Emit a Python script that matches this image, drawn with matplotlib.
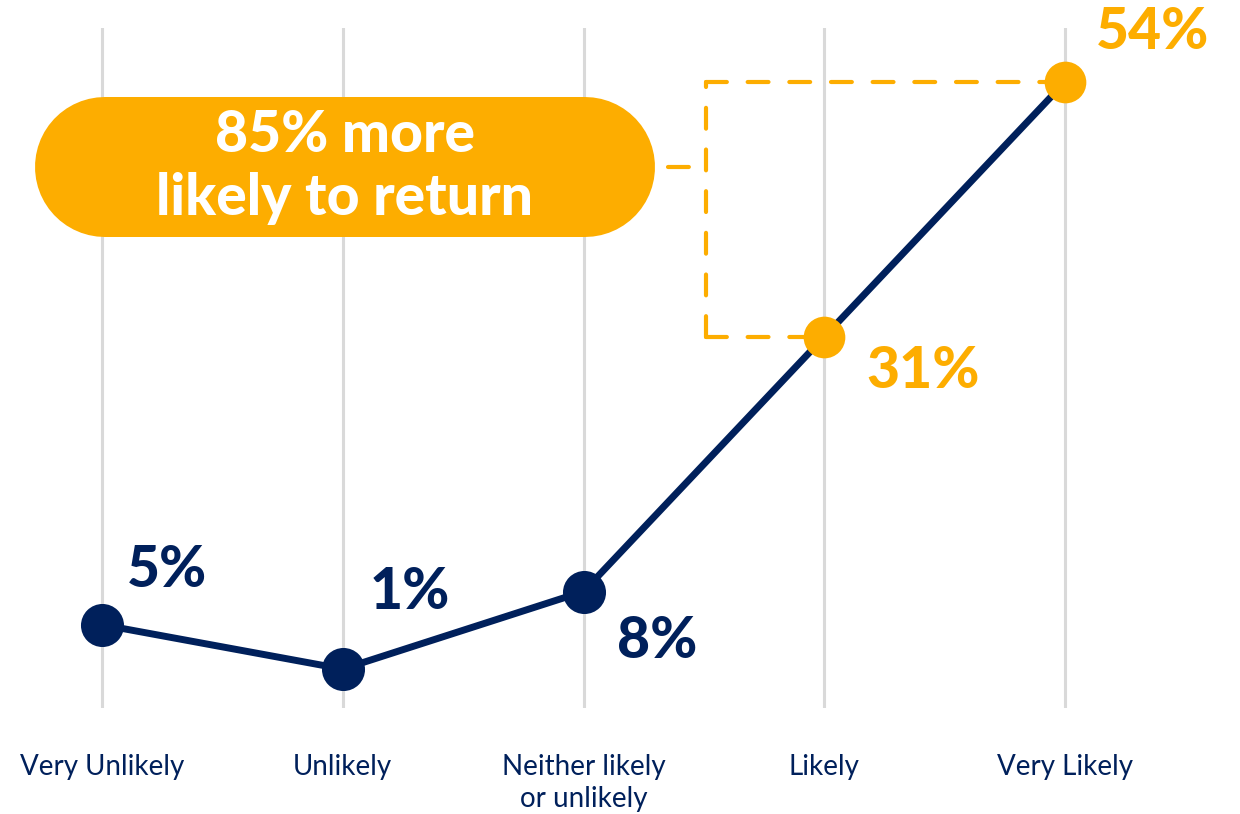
import matplotlib.pyplot as plt
from matplotlib.lines import Line2D

# survey answers and share of respondents
categories = ["Very Unlikely", "Unlikely", "Neither likely\nor unlikely", "Likely", "Very Likely"]
shares = [5, 1, 8, 31, 54]
labels = ["5%", "1%", "8%", "31%", "54%"]
callout = "85% more\nlikely to return"

navy = "#00205B"
gold = "#FDAD00"
grey = "#D9D9D9"

plt.rcParams['font.family'] = ['Lato', 'DejaVu Sans']

fig = plt.figure(figsize=(12.4, 8.14), dpi=100)
ax = fig.add_axes([0, 0.1302, 1, 0.8354])

x = list(range(len(categories)))
ax.set_xlim(-0.424, 4.727)
ax.set_ylim(-2.52, 58.88)

for xi in x:
    ax.axvline(xi, color=grey, lw=2.2, zorder=0)

# main line, highlighted top two points
ax.plot(x, shares, color=navy, lw=5, zorder=2)
ax.scatter(x[:3], shares[:3], s=31**2, color=navy, zorder=3, linewidths=0)
ax.scatter(x[3:], shares[3:], s=30**2, color=gold, zorder=3, linewidths=0)

# value labels (offset in points from each dot)
offsets = [(18, 39), (19, 55), (24, -36), (30, -25), (22, 36)]
for xi, v, lab, off in zip(x, shares, labels, offsets):
    c = gold if v >= 31 else navy
    ax.annotate(lab, (xi, v), xytext=off, textcoords="offset points",
                ha="left", va="center", fontsize=41, fontweight="black", color=c)

# dashed bracket between the 31% and 54% points
bx = 2.509
dash = dict(color=gold, lw=3, ls=(0, (5, 5)), dash_capstyle="round", zorder=1)
ax.plot([bx, bx], [shares[3], shares[4]], **dash)
ax.plot([bx, x[4]], [shares[4], shares[4]], **dash)
ax.plot([bx, x[3]], [shares[3], shares[3]], **dash)

# pill shaped callout drawn as a thick round-capped line in figure coords
W, H = 1240, 814
pill_y = 1 - 167 / H
fig.add_artist(Line2D([105 / W, 585 / W], [pill_y, pill_y], transform=fig.transFigure,
                      color=gold, lw=100.8, solid_capstyle="round"))
fig.add_artist(Line2D([668 / W, 700 / W], [pill_y, pill_y], transform=fig.transFigure,
                      **dash))
fig.text(345 / W, pill_y, callout, ha="center", va="center", fontsize=41,
         fontweight="black", color="white", linespacing=1.25)

ax.set_xticks(x)
ax.set_xticklabels(categories, fontsize=20, color=navy, linespacing=1.3, va="top")
ax.tick_params(axis="x", length=0, pad=33)
ax.set_yticks([])
for s in ax.spines.values():
    s.set_visible(False)

fig.savefig("out.png", dpi=100)
